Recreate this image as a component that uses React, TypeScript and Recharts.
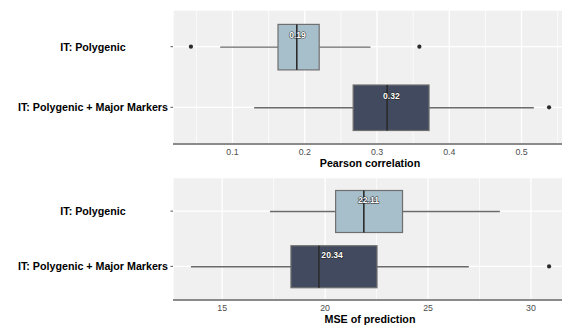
import {
  Bar,
  CartesianGrid,
  ComposedChart,
  Label,
  Scatter,
  XAxis,
  YAxis,
} from "recharts";

const categories = ["IT: Polygenic", "IT: Polygenic + Major Markers"];

// Pearson correlation boxplots
const corrLow = [0.083, 0.13];
const corrQ1 = [0.163, 0.267];
const corrMedian = [0.189, 0.314];
const corrQ3 = [0.22, 0.372];
const corrHigh = [0.291, 0.517];
const corrMean = [0.19, 0.32];
const corrOutliers = [[0.0425, 0.3586], [0.5381]];
const corrTicks = [0.1, 0.2, 0.3, 0.4, 0.5];
const corrMinorTicks = [0.05, 0.15, 0.25, 0.35, 0.45, 0.55];

// MSE of prediction boxplots
const mseLow = [17.32, 13.48];
const mseQ1 = [20.51, 18.34];
const mseMedian = [21.88, 19.7];
const mseQ3 = [23.76, 22.52];
const mseHigh = [28.49, 26.98];
const mseMean = [22.11, 20.34];
const mseOutliers: number[][] = [[], [30.88]];
const mseTicks = [15, 20, 25, 30];
const mseMinorTicks = [12.5, 17.5, 22.5, 27.5];

const boxFills = ["#A7BFCB", "#414A5E"];
const font = '"Liberation Sans", Arial, Helvetica, sans-serif';

type BoxRow = {
  name: string;
  low: number;
  q1: number;
  median: number;
  q3: number;
  high: number;
  mean: number;
};

function buildRows(
  low: number[],
  q1: number[],
  median: number[],
  q3: number[],
  high: number[],
  mean: number[],
): BoxRow[] {
  return categories.map((name, i) => ({
    name,
    low: low[i],
    q1: q1[i],
    median: median[i],
    q3: q3[i],
    high: high[i],
    mean: mean[i],
  }));
}

function buildOutliers(outliers: number[][]) {
  return categories.flatMap((name, i) => outliers[i].map((value) => ({ name, value })));
}

function BoxShape(props: any) {
  const { x, y, width, height, payload, index } = props;
  const { low, q1, median, q3, high, mean } = payload as BoxRow;
  // the bar spans low..high, so positions inside it follow the axis scale linearly
  const px = (v: number) => x + ((v - low) / (high - low)) * width;
  const cy = y + height / 2;
  return (
    <g>
      <line x1={px(low)} x2={px(q1)} y1={cy} y2={cy} stroke="#6a6a6a" strokeWidth={1.3} />
      <line x1={px(q3)} x2={px(high)} y1={cy} y2={cy} stroke="#6a6a6a" strokeWidth={1.3} />
      <rect
        x={px(q1)}
        y={y}
        width={px(q3) - px(q1)}
        height={height}
        fill={boxFills[index % boxFills.length]}
        stroke="#6f6f6f"
        strokeWidth={1.2}
      />
      <line x1={px(median)} x2={px(median)} y1={y} y2={y + height} stroke="#2b2b2b" strokeWidth={1.6} />
      <text
        x={px(mean)}
        y={cy - 12}
        textAnchor="middle"
        dominantBaseline="central"
        fontSize={8.6}
        fontWeight={700}
        fill="#ffffff"
        stroke="#1a1a1a"
        strokeWidth={0.9}
        paintOrder="stroke"
      >
        {mean.toFixed(2)}
      </text>
    </g>
  );
}

function CategoryTick({ x, y, payload }: any) {
  return (
    <text
      x={x - 77.5}
      y={y}
      textAnchor="middle"
      dominantBaseline="central"
      fontSize={10.7}
      fontWeight={700}
      fill="#000"
    >
      {payload.value}
    </text>
  );
}

type PanelProps = {
  rows: BoxRow[];
  outliers: { name: string; value: number }[];
  domain: [number, number];
  ticks: number[];
  minorTicks: number[];
  title: string;
  height: number;
  marginTop: number;
  axisHeight: number;
  bandPad: number;
  barSize: number;
  tickMargin: number;
  titleOffset: number;
};

function BoxPanel(p: PanelProps) {
  return (
    <ComposedChart
      width={567}
      height={p.height}
      data={p.rows}
      layout="vertical"
      margin={{ top: p.marginTop, right: 0, bottom: 0, left: 0 }}
    >
      <CartesianGrid fill="#F0F0F0" stroke="#ffffff" strokeWidth={1.3} />
      <CartesianGrid
        horizontal={false}
        verticalValues={p.minorTicks}
        stroke="#ffffff"
        strokeWidth={0.7}
        fill="none"
      />
      <XAxis
        type="number"
        domain={p.domain}
        ticks={p.ticks}
        allowDataOverflow
        tickSize={0}
        tickMargin={p.tickMargin}
        tick={{ fill: "#4D4D4D", fontSize: 8.8 }}
        axisLine={{ stroke: "#8a8a8a", strokeWidth: 1.8 }}
        height={p.axisHeight}
      >
        <Label
          value={p.title}
          position="insideBottom"
          offset={p.titleOffset}
          style={{ fontSize: 10.7, fontWeight: 700, fill: "#000" }}
        />
      </XAxis>
      <YAxis
        type="category"
        dataKey="name"
        allowDuplicatedCategory={false}
        width={173}
        padding={{ top: p.bandPad, bottom: p.bandPad }}
        axisLine={false}
        tickSize={2.5}
        tickMargin={0}
        tickLine={{ stroke: "#555" }}
        tick={<CategoryTick />}
      />
      <Bar
        dataKey={(d: BoxRow) => [d.low, d.high]}
        barSize={p.barSize}
        shape={<BoxShape />}
        isAnimationActive={false}
      />
      <Scatter
        data={p.outliers}
        dataKey="value"
        fill="#2a2a2a"
        shape={(s: any) => <circle cx={s.cx} cy={s.cy} r={2.1} fill="#2a2a2a" />}
        isAnimationActive={false}
      />
    </ComposedChart>
  );
}

export default function App() {
  const corrRows = buildRows(corrLow, corrQ1, corrMedian, corrQ3, corrHigh, corrMean);
  const mseRows = buildRows(mseLow, mseQ1, mseMedian, mseQ3, mseHigh, mseMean);

  return (
    <div
      style={{
        position: "absolute",
        left: 0,
        top: 0,
        width: 562,
        height: 325,
        overflow: "hidden",
        background: "#fff",
        fontFamily: font,
      }}
    >
      <div style={{ position: "absolute", left: 0, top: 0 }}>
        <BoxPanel
          rows={corrRows}
          outliers={buildOutliers(corrOutliers)}
          domain={[0.0177, 0.5629]}
          ticks={corrTicks}
          minorTicks={corrMinorTicks}
          title="Pearson correlation"
          height={174}
          marginTop={10}
          axisHeight={30}
          bandPad={6.4}
          barSize={45.5}
          tickMargin={5}
          titleOffset={7}
        />
      </div>
      <div style={{ position: "absolute", left: 0, top: 174 }}>
        <BoxPanel
          rows={mseRows}
          outliers={buildOutliers(mseOutliers)}
          domain={[12.61, 31.75]}
          ticks={mseTicks}
          minorTicks={mseMinorTicks}
          title="MSE of prediction"
          height={151}
          marginTop={3.5}
          axisHeight={25}
          bandPad={6}
          barSize={42}
          tickMargin={4.5}
          titleOffset={2.2}
        />
      </div>
    </div>
  );
}
